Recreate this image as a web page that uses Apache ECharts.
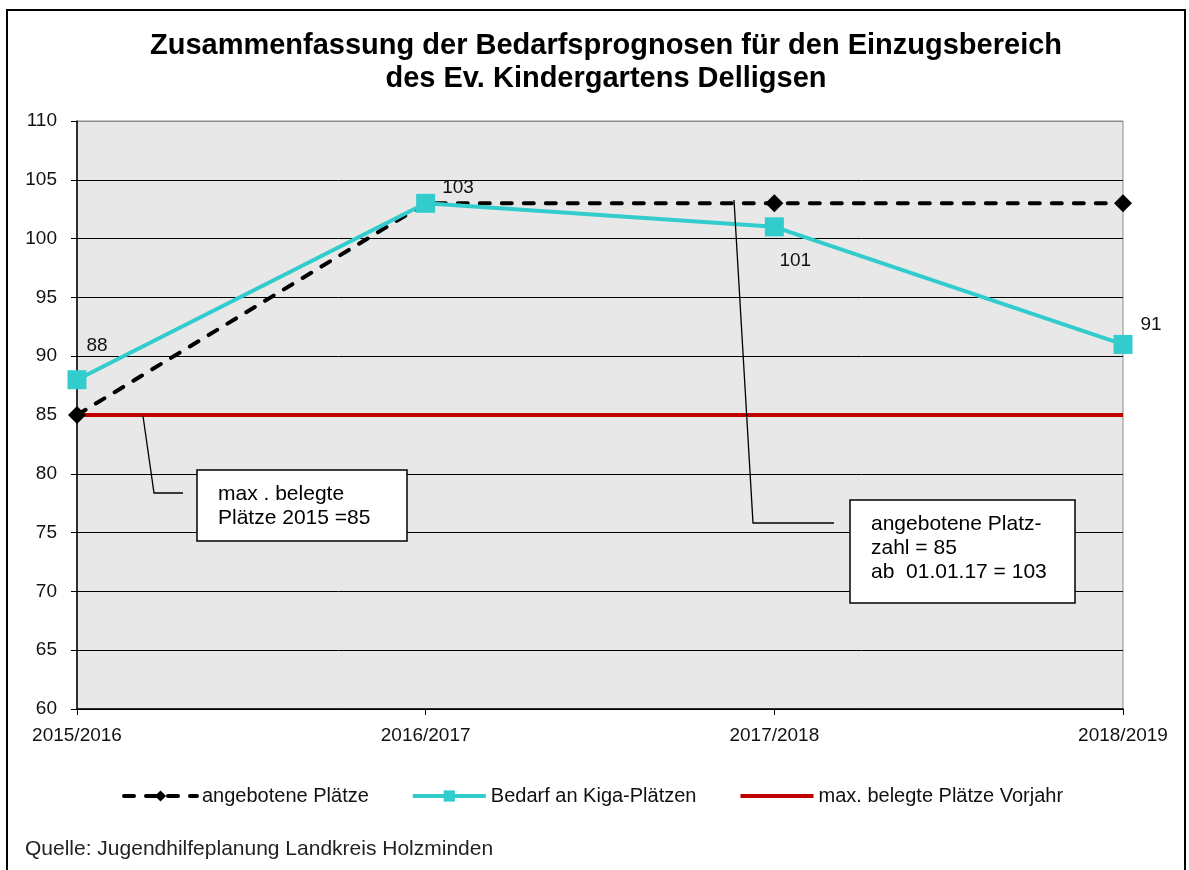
<!DOCTYPE html>
<html>
<head>
<meta charset="utf-8">
<script src="https://cdn.jsdelivr.net/npm/echarts@6/dist/echarts.min.js"></script>
<style>
html, body { margin: 0; padding: 0; background: #fff; }
#chart { width: 1189px; height: 870px; }
</style>
</head>
<body>
<div id="chart"></div>
<script>
const years = ['2015/2016', '2016/2017', '2017/2018', '2018/2019'];
const angeboten = [85, 103, 103, 103];
const bedarf = [88, 103, 101, 91];
const vorjahr = [85, 85, 85, 85];
// label offsets for the Bedarf values, like in the original
const bedarfLabelPos = ['top', 'right', 'bottom', 'top'];
const bedarfLabelOffset = [[20, -10], [2, -16], [21, 10], [28, 4]];

const font = 'Arial, "Liberation Sans", sans-serif';
const chart = echarts.init(document.getElementById('chart'));

const option = {
	animation: false,
	backgroundColor: '#fff',
	textStyle: { fontFamily: font },
	title: {
		text: 'Zusammenfassung der Bedarfsprognosen für den Einzugsbereich\ndes Ev. Kindergartens Delligsen',
		left: 606,
		textAlign: 'center',
		top: 29,
		padding: 0,
		textStyle: {
			fontFamily: font,
			fontSize: 29,
			fontWeight: 'bold',
			color: '#000',
			lineHeight: 33
		}
	},
	grid: {
		left: 77,
		right: 66,
		top: 121,
		bottom: 161,
		show: true,
		backgroundColor: '#e8e8e8',
		borderColor: '#8c8c8c',
		borderWidth: 1
	},
	legend: {
		top: 786,
		left: 122,
		padding: 0,
		itemWidth: 73,
		itemHeight: 14,
		itemGap: 42,
		textStyle: { fontFamily: font, fontSize: 20, color: '#111' },
		lineStyle: { width: 4 },
		data: [
			'angebotene Plätze',
			'Bedarf an Kiga-Plätzen',
			{ name: 'max. belegte Plätze Vorjahr', itemStyle: { opacity: 0 } }
		]
	},
	xAxis: {
		type: 'category',
		boundaryGap: false,
		data: years,
		axisLine: { lineStyle: { color: '#000', width: 1.5 } },
		axisTick: { show: true, length: 6, lineStyle: { color: '#000' } },
		axisLabel: { color: '#111', fontSize: 19, margin: 17 },
		splitLine: { show: false }
	},
	yAxis: {
		type: 'value',
		min: 60,
		max: 110,
		interval: 5,
		axisLine: { show: true, lineStyle: { color: '#000', width: 1.5 } },
		axisTick: { show: true, length: 6, lineStyle: { color: '#000' } },
		axisLabel: { color: '#111', fontSize: 19, margin: 20 },
		splitLine: {
			show: true,
			lineStyle: {
				color: ['#000', '#000', '#000', '#000', '#000', '#000', '#000', '#000', '#000', '#000', '#8c8c8c'],
				width: 1
			}
		}
	},
	series: [
		{
			name: 'angebotene Plätze',
			type: 'line',
			z: 3,
			data: angeboten,
			symbol: 'diamond',
			symbolSize: 18,
			itemStyle: { color: '#000' },
			lineStyle: { color: '#000', width: 4, type: [10, 12], cap: 'round' }
		},
		{
			name: 'Bedarf an Kiga-Plätzen',
			type: 'line',
			z: 4,
			data: bedarf.map((v, i) => ({
				value: v,
				label: { position: bedarfLabelPos[i], offset: bedarfLabelOffset[i] }
			})),
			symbol: 'rect',
			symbolSize: 19,
			itemStyle: { color: '#33cccc' },
			lineStyle: { color: '#33cccc', width: 4 },
			label: { show: true, fontSize: 19, color: '#111', fontFamily: font }
		},
		{
			name: 'max. belegte Plätze Vorjahr',
			type: 'line',
			z: 2,
			data: vorjahr,
			symbol: 'none',
			itemStyle: { color: '#c00000' },
			lineStyle: { color: '#c00000', width: 4 }
		}
	],
	graphic: [
		// outer frame
		{
			type: 'rect',
			shape: { x: 7, y: 10, width: 1178, height: 900 },
			style: { fill: null, stroke: '#000', lineWidth: 2 },
			silent: true
		},
		// callout 1
		{
			type: 'polyline',
			shape: { points: [[143, 416], [154, 493], [183, 493]] },
			style: { stroke: '#000', lineWidth: 1.3, fill: null },
			z: 10
		},
		{
			type: 'rect',
			shape: { x: 197, y: 470, width: 210, height: 71 },
			style: { fill: '#fff', stroke: '#000', lineWidth: 1.5 },
			z: 10
		},
		{
			type: 'text',
			x: 218, y: 482,
			style: {
				text: 'max . belegte\nPlätze 2015 =85',
				font: '21px ' + font,
				lineHeight: 24,
				fill: '#000'
			},
			z: 11
		},
		// callout 2
		{
			type: 'polyline',
			shape: { points: [[734, 200], [753, 523], [834, 523]] },
			style: { stroke: '#000', lineWidth: 1.3, fill: null },
			z: 10
		},
		{
			type: 'rect',
			shape: { x: 850, y: 500, width: 225, height: 103 },
			style: { fill: '#fff', stroke: '#000', lineWidth: 1.5 },
			z: 10
		},
		{
			type: 'text',
			x: 871, y: 512,
			style: {
				text: 'angebotene Platz-\nzahl = 85\nab  01.01.17 = 103',
				font: '21px ' + font,
				lineHeight: 24,
				fill: '#000'
			},
			z: 11
		},
		// source
		{
			type: 'text',
			x: 25, y: 839,
			style: {
				text: 'Quelle: Jugendhilfeplanung Landkreis Holzminden',
				font: '21px ' + font,
				fill: '#222'
			}
		}
	]
};

chart.setOption(option);
</script>
</body>
</html>
